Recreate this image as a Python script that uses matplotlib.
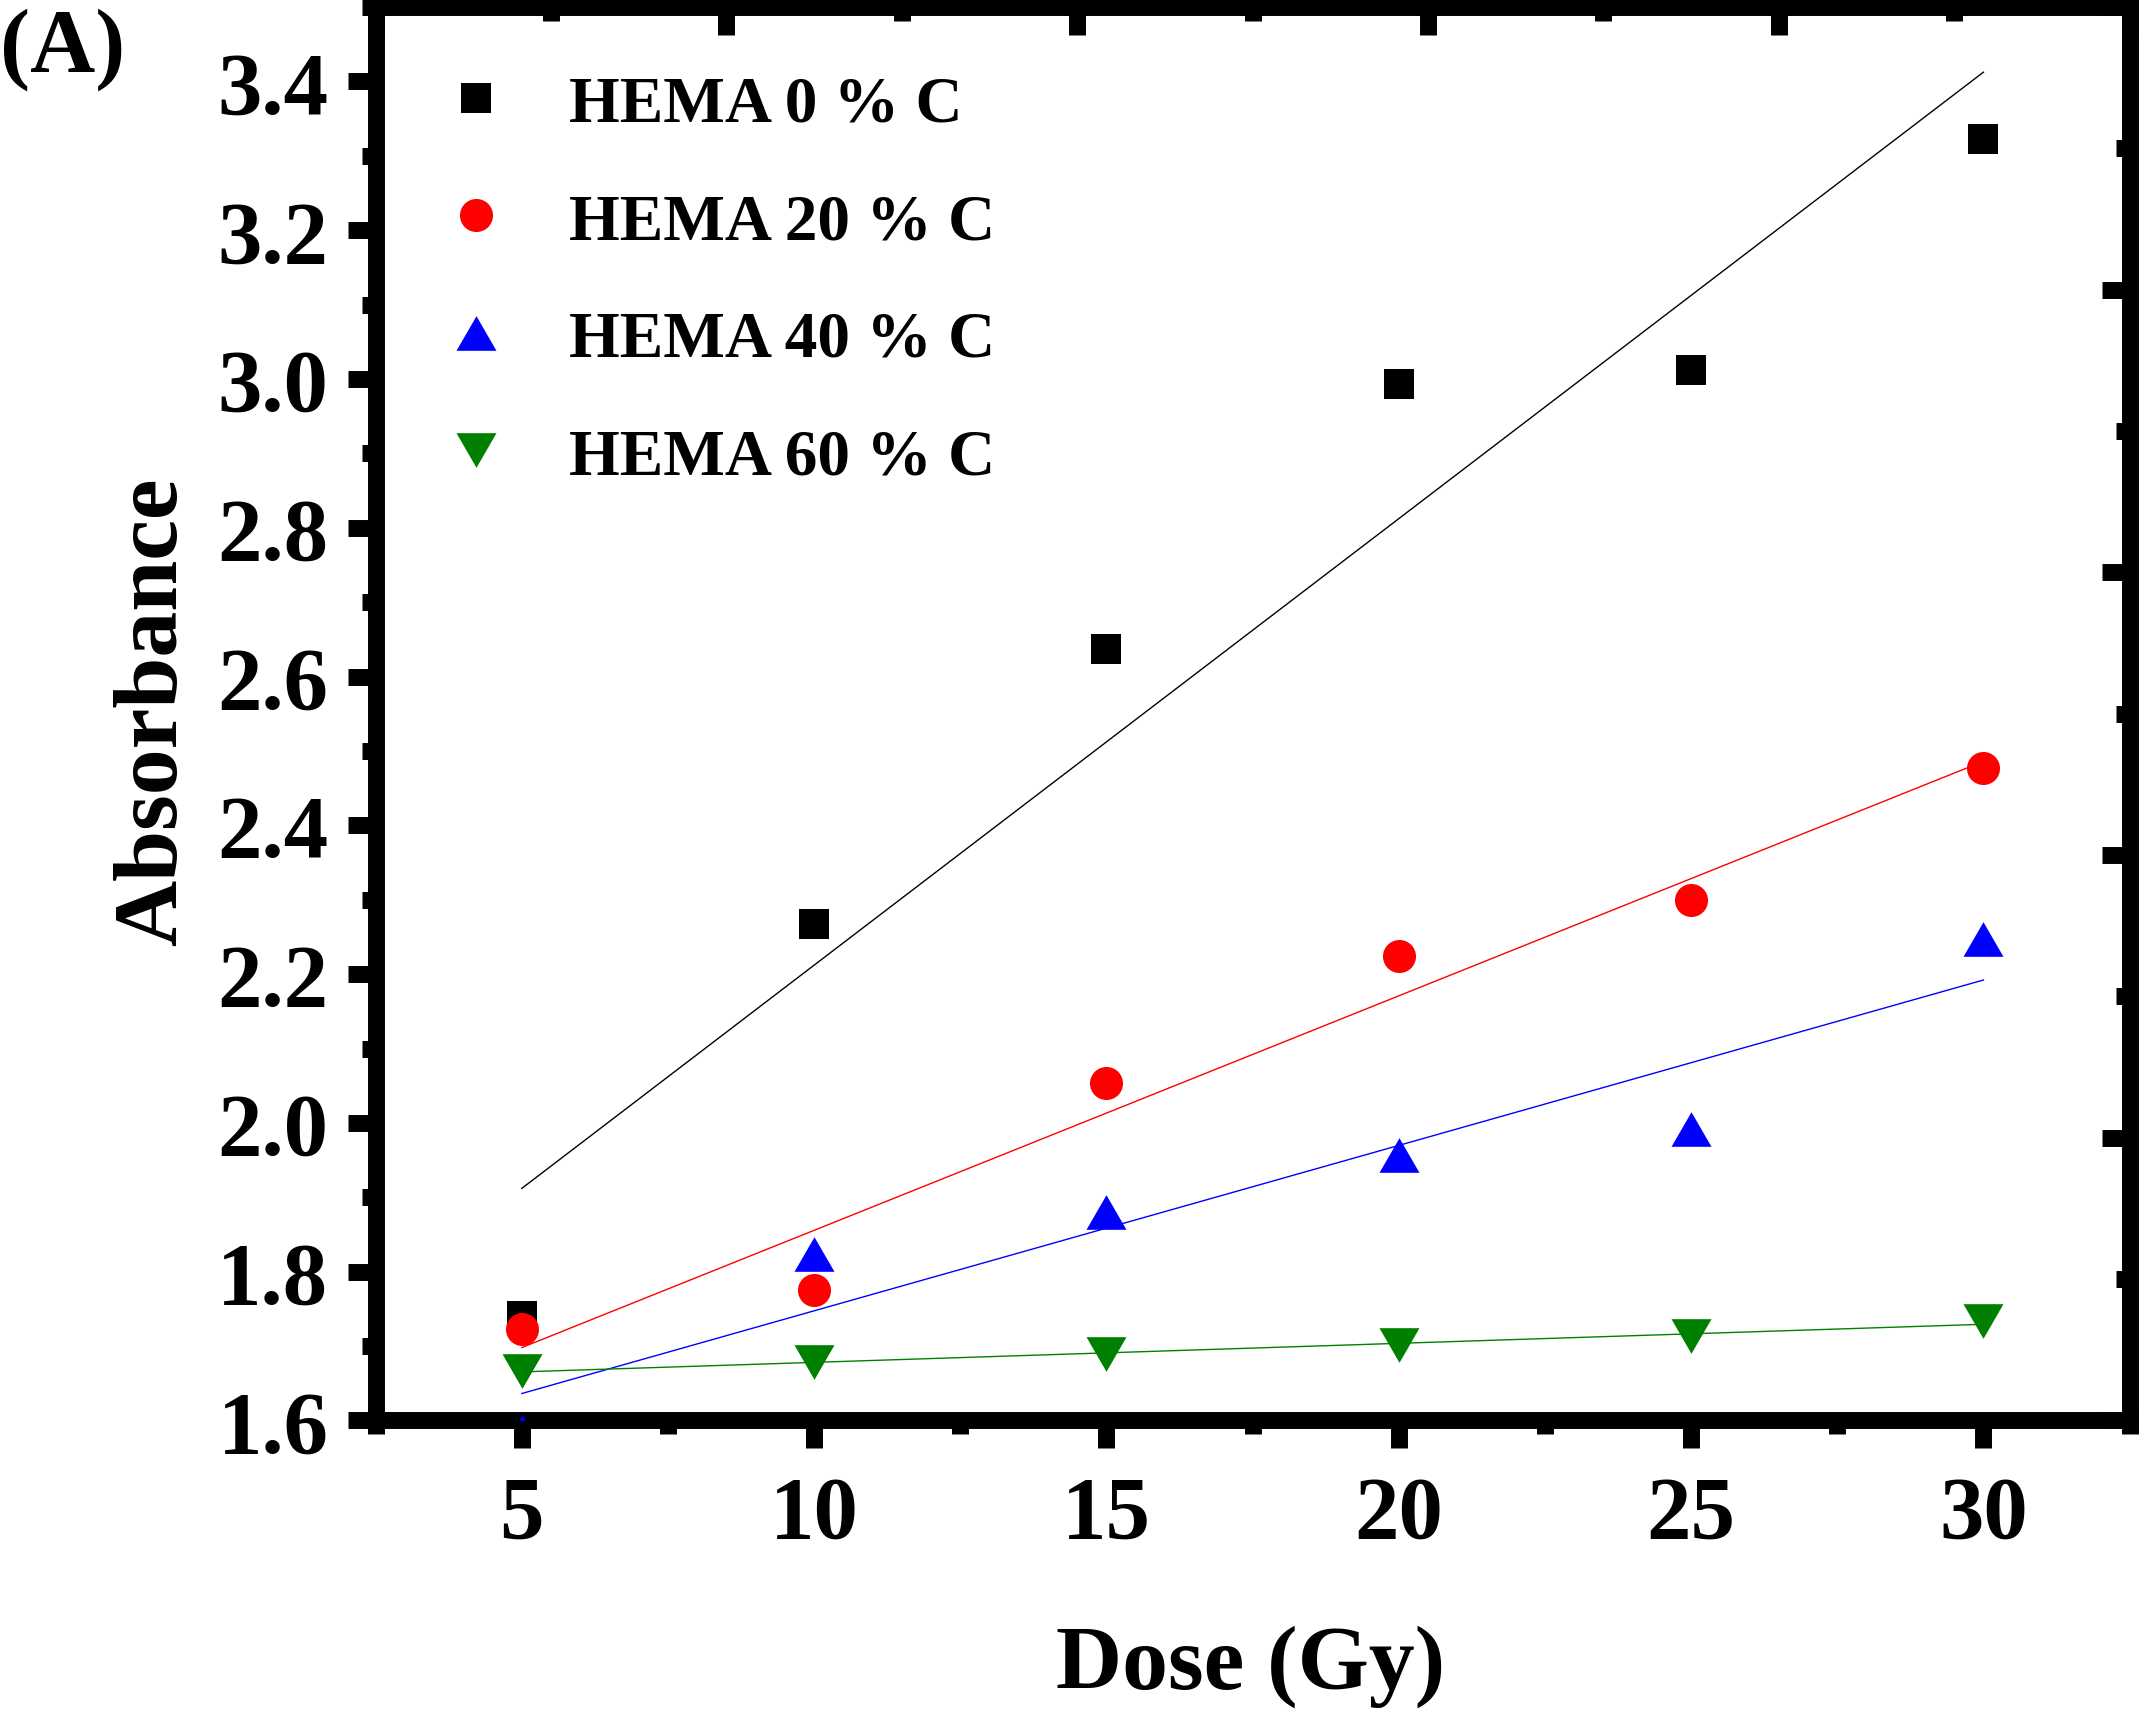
import numpy as np
import matplotlib
matplotlib.use("Agg")
import matplotlib.pyplot as plt
from matplotlib.ticker import MultipleLocator, FixedLocator
from matplotlib.lines import Line2D

plt.rcParams['font.family'] = ['Liberation Serif', 'DejaVu Serif']
plt.rcParams['font.weight'] = 'bold'

# ---- data ----
dose = [5, 10, 15, 20, 25, 30]
hema0 = [1.740, 2.268, 2.637, 2.993, 3.012, 3.323]
hema20 = [1.723, 1.775, 2.053, 2.224, 2.300, 2.477]
hema40 = [1.585, 1.824, 1.880, 1.957, 1.992, 2.247]
hema60 = [1.667, 1.679, 1.690, 1.701, 1.713, 1.734]
labels = ['HEMA 0 % C', 'HEMA 20 % C', 'HEMA 40 % C', 'HEMA 60 % C']
colors = ['#000000', '#ff0000', '#0000ff', '#008000']

x_ticks = [5, 10, 15, 20, 25, 30]
y_ticks = [1.6, 1.8, 2.0, 2.2, 2.4, 2.6, 2.8, 3.0, 3.2, 3.4]

tri_up = [(-1, -0.866), (1, -0.866), (0, 0.866)]
tri_dn = [(-1, 0.866), (1, 0.866), (0, -0.866)]
markers = ['s', 'o', tri_up, tri_dn]
msizes = [20.9, 23.8, 28.8, 28.8]

fig = plt.figure(figsize=(21.39, 17.15), dpi=100)
ax = fig.add_axes([0.1756, 0.17114, 0.8200, 0.8242])

xs = np.array(dose, dtype=float)
series = [hema0, hema20, hema40, hema60]
handles = []
for ys, c, m, ms, lab in zip(series, colors, markers, msizes, labels):
    ys = np.array(ys)
    k, b = np.polyfit(xs, ys, 1)
    ax.plot(xs, k * xs + b, color=c, lw=1.0, zorder=2)
    ax.plot(xs, ys, linestyle='none', marker=m, markersize=ms, color=c,
            markeredgewidth=0, zorder=3)
    handles.append(Line2D([], [], linestyle='none', marker=m, markersize=ms,
                          color=c, markeredgewidth=0, label=lab))

ax.set_xlim(2.5, 32.5)
ax.set_ylim(1.6, 3.5)
ax.set_xticks(x_ticks)
ax.set_yticks(y_ticks)
ax.xaxis.set_minor_locator(MultipleLocator(2.5))
ax.yaxis.set_minor_locator(MultipleLocator(0.1))

SW = 12.2
for s in ax.spines.values():
    s.set_linewidth(SW)
    s.set_capstyle('projecting')

ax.tick_params(axis='both', which='major', direction='out', length=20, width=SW,
               labelsize=64, top=False, right=False)
ax.tick_params(axis='both', which='minor', direction='out', length=10, width=SW,
               top=False, right=False)
ax.tick_params(axis='x', which='major', pad=19)
ax.tick_params(axis='y', which='major', pad=14)
ax.set_yticklabels([f'{v:.1f}' for v in y_ticks])

# top and right secondary tick marks (inward)
axt = ax.twiny()
axt.set_xlim(2.5, 32.5)
axt.xaxis.set_major_locator(FixedLocator([2.5, 8.5, 14.5, 20.5, 26.5, 32.5]))
axt.xaxis.set_minor_locator(FixedLocator([5.5, 11.5, 17.5, 23.5, 29.5]))
axt.tick_params(axis='x', which='major', direction='in', length=20, width=SW,
                labeltop=False)
axt.tick_params(axis='x', which='minor', direction='in', length=10, width=SW)
for s in axt.spines.values():
    s.set_visible(False)

axr = ax.twinx()
axr.set_ylim(1.6, 3.5)
axr.yaxis.set_major_locator(FixedLocator([1.6, 1.98, 2.36, 2.74, 3.12, 3.5]))
axr.yaxis.set_minor_locator(FixedLocator([1.79, 2.17, 2.55, 2.93, 3.31]))
axr.tick_params(axis='y', which='major', direction='in', length=20, width=SW,
                labelright=False)
axr.tick_params(axis='y', which='minor', direction='in', length=10, width=SW)
for s in axr.spines.values():
    s.set_visible(False)

ax.set_xlabel('Dose (Gy)', fontsize=66, fontweight='bold')
ax.xaxis.set_label_coords(0.4991, -0.144)
ax.set_ylabel('Absorbance', fontsize=66, fontweight='bold')
ax.yaxis.set_label_coords(-0.1029, 0.502)

leg = ax.legend(handles=handles, loc='upper left', bbox_to_anchor=(0.0387, 0.952),
                frameon=False, fontsize=47, handlelength=1.0, handletextpad=0.92,
                labelspacing=0.88, borderpad=0, borderaxespad=0)
leg.set_zorder(5)

fig.text(0.0, 1 - 72 / 1715, '(A)', fontsize=65, fontweight='bold',
         ha='left', va='baseline')

fig.savefig('out.png', dpi=100)
